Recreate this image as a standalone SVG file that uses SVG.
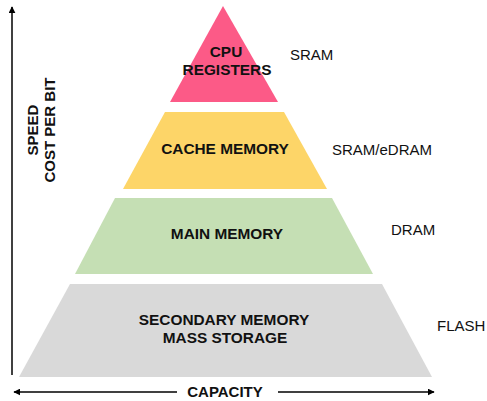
<svg xmlns="http://www.w3.org/2000/svg" width="487" height="401" viewBox="0 0 487 401">
  <defs>
    <marker id="arrow" viewBox="0 0 10 10" refX="9" refY="5" markerWidth="7" markerHeight="7" markerUnits="userSpaceOnUse" orient="auto-start-reverse">
      <path d="M0,0 L10,5 L0,10 z" fill="#000"/>
    </marker>
    <style>
      .tier { font-family: "Liberation Sans", Arial, sans-serif; font-weight: bold; font-size: 15.4px; fill: #111; text-anchor: middle; }
      .tech { font-family: "Liberation Sans", Arial, sans-serif; font-size: 15px; fill: #111; }
      .axis-label { font-family: "Liberation Sans", Arial, sans-serif; font-weight: bold; font-size: 15px; fill: #111; text-anchor: middle; }
      .axis { stroke: #000; stroke-width: 1.5; fill: none; }
    </style>
  </defs>

  <rect width="487" height="401" fill="#fff"/>

  <!-- memory hierarchy tiers, top to bottom -->
  <g id="cpu-registers">
    <polygon points="223,6 278,102 170,102" fill="#FC5A87"/>
    <text class="tier" x="226" y="57">CPU</text>
    <text class="tier" x="227" y="75">REGISTERS</text>
  </g>
  <g id="cache-memory">
    <polygon points="165,112 284,112 327,189 123,189" fill="#FDD568"/>
    <text class="tier" x="225" y="154">CACHE MEMORY</text>
  </g>
  <g id="main-memory">
    <polygon points="115,198 332,198 373,274 75,274" fill="#C5DFB4"/>
    <text class="tier" x="227" y="239">MAIN MEMORY</text>
  </g>
  <g id="secondary-memory">
    <polygon points="70,284 382,284 432,377 19,377" fill="#D9D9D9"/>
    <text class="tier" x="224" y="325">SECONDARY MEMORY</text>
    <text class="tier" x="225" y="343">MASS STORAGE</text>
  </g>

  <!-- technology labels -->
  <g id="tech-labels">
    <text class="tech" x="290" y="60">SRAM</text>
    <text class="tech" x="332" y="155">SRAM/eDRAM</text>
    <text class="tech" x="391" y="235">DRAM</text>
    <text class="tech" x="437" y="331">FLASH</text>
  </g>

  <!-- axes -->
  <g id="connectors">
    <line class="axis" x1="12" y1="375" x2="12" y2="7" marker-end="url(#arrow)"/>
    <line class="axis" x1="177" y1="392" x2="14" y2="392" marker-end="url(#arrow)"/>
    <line class="axis" x1="278" y1="392" x2="434" y2="392" marker-end="url(#arrow)"/>
  </g>
  <g id="axis-labels">
    <text class="axis-label" transform="translate(38,130) rotate(-90)">SPEED</text>
    <text class="axis-label" transform="translate(55,130) rotate(-90)">COST PER BIT</text>
    <text class="axis-label" x="225" y="397">CAPACITY</text>
  </g>
</svg>
